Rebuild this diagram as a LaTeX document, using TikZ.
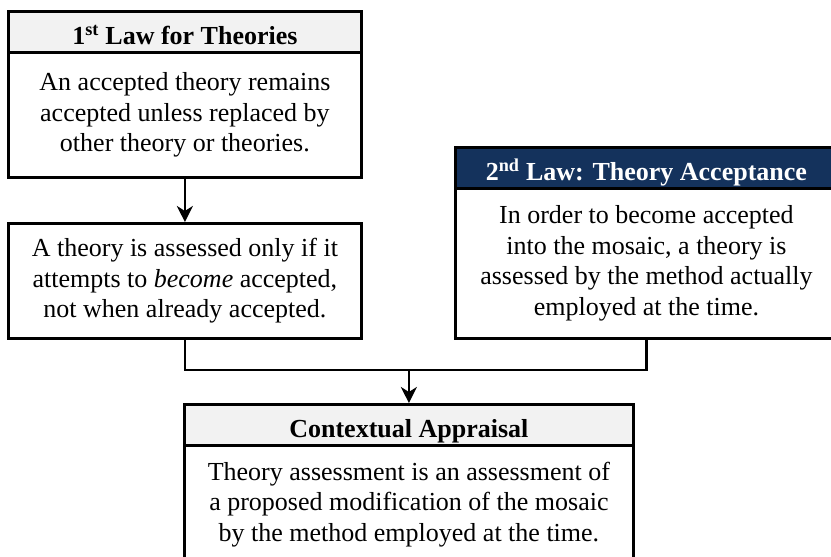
\documentclass[tikz,border=0pt]{standalone}
\usepackage{fontspec}
\setmainfont{Liberation Serif}
\usetikzlibrary{arrows.meta}
\definecolor{headgray}{RGB}{242,242,242}
\definecolor{headblue}{RGB}{20,50,92}
\begin{document}
\begin{tikzpicture}[x=1pt,y=-1pt,
  frame/.style={draw=black, line width=2.8pt, inner sep=0pt, anchor=north west},
  headbox/.style={frame, fill=headgray, minimum height=41pt,
    font=\fontsize{26}{30.5}\selectfont\bfseries, text height=33pt, text depth=8pt},
  bodybox/.style={frame, fill=white, align=center,
    font=\fontsize{26}{30.5}\selectfont},
  link/.style={draw=black, line width=2.8pt},
  arrowlink/.style={link, -{Stealth[length=16pt,width=16pt,inset=5pt]}}
]
\useasboundingbox (0,0) rectangle (831,557);
\clip (0,0) rectangle (831,557);

% First law
\node[headbox, minimum width=353pt] (h1) at (7,10) {1\textsuperscript{st} Law for Theories};
\node[bodybox, minimum width=353pt, minimum height=125pt] (b1) at (7,51)
  {An accepted theory remains\\accepted unless replaced by\\other theory or theories.};

% Consequence of the first law
\node[bodybox, minimum width=353pt, minimum height=115pt] (b2) at (7,222)
  {A theory is assessed only if it\\attempts to \textit{become} accepted,\\not when already accepted.};

% Second law
\node[headbox, fill=headblue, text=white, minimum width=382pt] (h3) at (454,146)
  {2\textsuperscript{nd} Law: Theory Acceptance};
\node[bodybox, minimum width=382pt, minimum height=150pt] (b3) at (454,187)
  {In order to become accepted\\into the mosaic, a theory is\\assessed by the method actually\\employed at the time.};

% Contextual appraisal
\node[headbox, minimum width=449pt] (h4) at (183,403) {Contextual Appraisal};
\node[bodybox, minimum width=449pt, minimum height=118pt] (b4) at (183,444)
  {Theory assessment is an assessment of\\a proposed modification of the mosaic\\by the method employed at the time.};

% Connectors
\coordinate (jn) at (h4.north |- 0,370);
\draw[arrowlink] (b1.south) -- (b2.north);
\draw[link] (b2.south) -- (b2.south |- jn) -- (b3.south |- jn) -- (b3.south);
\draw[arrowlink] (jn) -- (h4.north);
\end{tikzpicture}
\end{document}
